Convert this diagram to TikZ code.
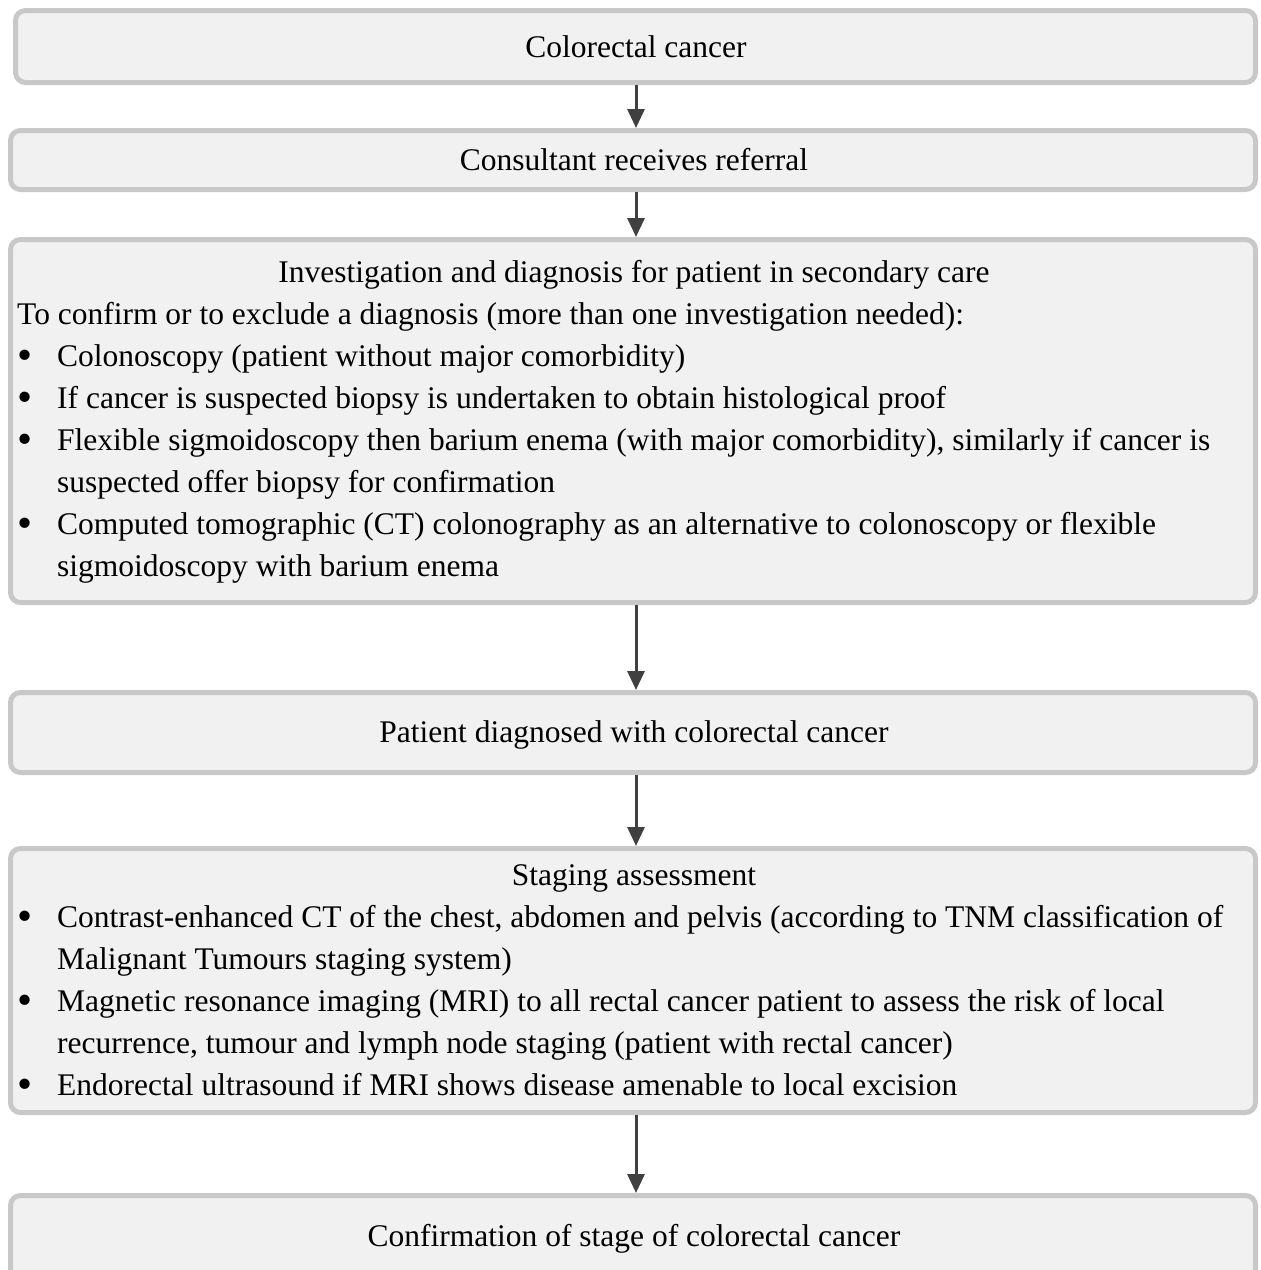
\documentclass[tikz,border=0pt]{standalone}
\usepackage{fontspec}
\setmainfont{Liberation Serif}
\usetikzlibrary{arrows.meta}
\definecolor{boxfill}{HTML}{F1F1F1}
\definecolor{boxline}{HTML}{C8C8C8}
\definecolor{arrcol}{HTML}{404040}
\begin{document}
\begin{tikzpicture}[x=1pt,y=-1pt,
  flowbox/.style={draw=boxline, line width=5pt, fill=boxfill, rounded corners=10pt, inner sep=0pt, rectangle},
  txt/.style={font=\fontsize{31.5}{42}\selectfont, inner sep=0pt, text=black},
  ctxt/.style={txt, anchor=base},
  ltxt/.style={txt, anchor=base west},
  bul/.style={font=\fontsize{43}{43}\selectfont, inner sep=0pt, text=black, anchor=base},
  arr/.style={draw=arrcol, line width=3pt, -{Triangle[length=19pt,width=17pt]}}
]
\useasboundingbox (0,0) rectangle (1261,1270);
\begin{scope}
\clip (0,0) rectangle (1261,1270);
% boxes
\node[flowbox, minimum width=1240pt, minimum height=72pt] (b1) at (635.5,46.5) {};
\node[flowbox, minimum width=1245pt, minimum height=59pt] (b2) at (633,160) {};
\node[flowbox, minimum width=1245pt, minimum height=363pt] (b3) at (633,421) {};
\node[flowbox, minimum width=1245pt, minimum height=80pt] (b4) at (633,732.5) {};
\node[flowbox, minimum width=1245pt, minimum height=264pt] (b5) at (633,980.5) {};
\node[flowbox, minimum width=1245pt, minimum height=85pt] (b6) at (633,1238) {};
\end{scope}
\coordinate (ax) at (636,0);
% arrows
\draw[arr] (b1.south -| ax) -- (b2.north -| ax);
\draw[arr] (b2.south -| ax) -- (b3.north -| ax);
\draw[arr] (b3.south -| ax) -- (b4.north -| ax);
\draw[arr] (b4.south -| ax) -- (b5.north -| ax);
\draw[arr] (b5.south -| ax) -- (b6.north -| ax);
% texts box 1, 2
\node[ctxt] (t1) at (636,57) {Colorectal cancer};
\node[ctxt] (t2) at (634,170) {Consultant receives referral};
% box 3
\node[ctxt] (t3a) at (634,282) {Investigation and diagnosis for patient in secondary care};
\node[ltxt] (t3b) at (17,324) {To confirm or to exclude a diagnosis (more than one investigation needed):};
\node[bul] (u31) at (25,369) {\textbullet};
\node[ltxt] (t3c) at (57,366) {Colonoscopy (patient without major comorbidity)};
\node[bul] (u32) at (25,411) {\textbullet};
\node[ltxt] (t3d) at (57,408) {If cancer is suspected biopsy is undertaken to obtain histological proof};
\node[bul] (u33) at (25,453) {\textbullet};
\node[ltxt] (t3e) at (57,450) {Flexible sigmoidoscopy then barium enema (with major comorbidity), similarly if cancer is};
\node[ltxt] (t3f) at (57,492) {suspected offer biopsy for confirmation};
\node[bul] (u34) at (25,537) {\textbullet};
\node[ltxt] (t3g) at (57,534) {Computed tomographic (CT) colonography as an alternative to colonoscopy or flexible};
\node[ltxt] (t3h) at (57,576) {sigmoidoscopy with barium enema};
% box 4
\node[ctxt] (t4) at (634,742) {Patient diagnosed with colorectal cancer};
% box 5
\node[ctxt] (t5a) at (634,885) {Staging assessment};
\node[bul] (u51) at (25,930) {\textbullet};
\node[ltxt] (t5b) at (57,927) {Contrast-enhanced CT of the chest, abdomen and pelvis (according to TNM classification of};
\node[ltxt] (t5c) at (57,969) {Malignant Tumours staging system)};
\node[bul] (u52) at (25,1014) {\textbullet};
\node[ltxt] (t5d) at (57,1011) {Magnetic resonance imaging (MRI) to all rectal cancer patient to assess the risk of local};
\node[ltxt] (t5e) at (57,1053) {recurrence, tumour and lymph node staging (patient with rectal cancer)};
\node[bul] (u53) at (25,1098) {\textbullet};
\node[ltxt] (t5f) at (57,1095) {Endorectal ultrasound if MRI shows disease amenable to local excision};
% box 6
\node[ctxt] (t6) at (634,1246) {Confirmation of stage of colorectal cancer};
\end{tikzpicture}
\end{document}
